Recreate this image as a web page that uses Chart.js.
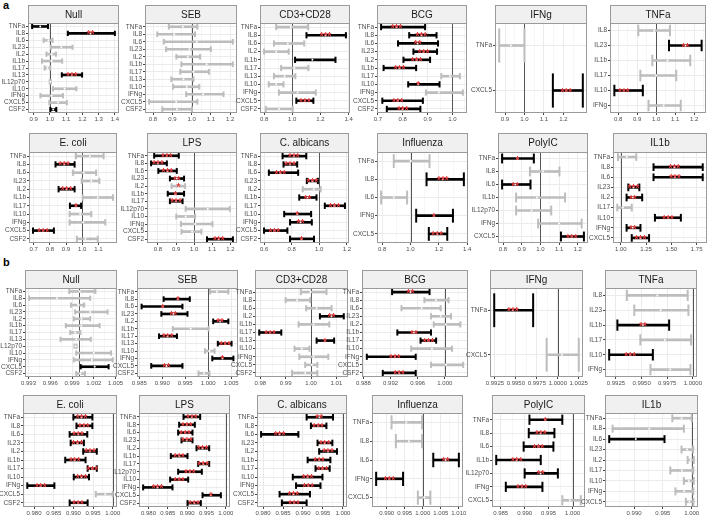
<!DOCTYPE html>
<html>
<head>
<meta charset="utf-8">
<script src="https://cdn.jsdelivr.net/npm/chart.js@4.4.1/dist/chart.umd.min.js"></script>
<style>
  body { margin: 0; background: #fff; width: 708px; height: 515px; position: relative; overflow: hidden; }
  canvas { position: absolute; }
  .tag { position: absolute; font: bold 11px "Liberation Sans", Arial, sans-serif; color: #000; }
</style>
</head>
<body>
<div class="tag" style="left:3px;top:-1px">a</div>
<div class="tag" style="left:3px;top:256px">b</div>
<script>
// ---------- panel a, top row ----------
const aNullRows = ['TNFa', 'IL8', 'IL6', 'IL23', 'IL2', 'IL1b', 'IL17', 'IL13', 'IL12p70', 'IL10', 'IFNg', 'CXCL5', 'CSF2'];
const aNullLo = [0.89, 1.11, 0.961, 1.006, 0.978, 0.951, 0.967, 1.073, 0.998, 1.018, 0.941, 0.996, 1.002];
const aNullMid = [0.94, 1.25, 0.99, 1.07, 1.01, 1.01, 0.985, 1.135, 1.002, 1.09, 1.01, 1.05, 1.02];
const aNullHi = [0.988, 1.40, 1.016, 1.139, 1.037, 1.075, 1.002, 1.198, 1.006, 1.163, 1.08, 1.104, 1.039];
const aNullSig = [1, 1, 0, 0, 0, 0, 0, 1, 0, 0, 0, 0, 1];
const aNullStars = ['', '**', '', '', '', '', '', '***', '', '', '', '', ''];
const aNullTicks = ['0.9', '1.0', '1.1', '1.2', '1.3', '1.4'];

const aSebRows = ['TNFa', 'IL8', 'IL6', 'IL23', 'IL2', 'IL1b', 'IL17', 'IL13', 'IL10', 'IFNg', 'CXCL5', 'CSF2'];
const aSebLo = [0.882, 0.822, 0.856, 0.868, 0.921, 0.947, 0.941, 0.895, 0.904, 0.972, 0.78, 0.848];
const aSebMid = [0.955, 0.91, 1.027, 0.989, 0.98, 1.078, 1.01, 0.958, 0.975, 1.06, 0.92, 0.924];
const aSebHi = [1.03, 1.018, 1.214, 1.10, 1.044, 1.214, 1.09, 1.01, 1.04, 1.166, 1.03, 1.002];
const aSebSig = [0, 0, 0, 0, 0, 0, 0, 0, 0, 0, 0, 0];
const aSebStars = ['', '', '', '', '', '', '', '', '', '', '', ''];
const aSebTicks = ['0.8', '0.9', '1.0', '1.1', '1.2'];

const aCd3Rows = ['TNFa', 'IL8', 'IL6', 'IL2', 'IL1b', 'IL17', 'IL13', 'IL10', 'IFNg', 'CXCL5', 'CSF2'];
const aCd3Lo = [0.886, 1.101, 0.87, 0.8, 1.02, 0.921, 0.87, 0.833, 0.905, 1.029, 0.812];
const aCd3Mid = [0.99, 1.237, 0.968, 0.886, 1.143, 1.015, 0.945, 0.886, 1.038, 1.09, 0.905];
const aCd3Hi = [1.113, 1.381, 1.085, 0.975, 1.307, 1.115, 1.022, 0.938, 1.167, 1.15, 1.003];
const aCd3Sig = [0, 1, 0, 0, 1, 0, 0, 0, 0, 1, 0];
const aCd3Stars = ['', '***', '', '', '', '', '', '', '', '***', ''];
const aCd3Ticks = ['0.8', '1.0', '1.2', '1.4'];

const aBcgRows = ['TNFa', 'IL8', 'IL6', 'IL23', 'IL2', 'IL1b', 'IL17', 'IL10', 'IFNg', 'CXCL5', 'CSF2'];
const aBcgLo = [0.713, 0.826, 0.781, 0.843, 0.803, 0.723, 0.955, 0.822, 0.893, 0.718, 0.736];
const aBcgMid = [0.775, 0.875, 0.86, 0.884, 0.856, 0.787, 0.99, 0.862, 0.945, 0.78, 0.80];
const aBcgHi = [0.89, 0.936, 0.942, 0.938, 0.91, 0.854, 1.03, 0.948, 1.042, 0.881, 0.871];
const aBcgSig = [1, 1, 1, 1, 1, 1, 0, 1, 0, 1, 1];
const aBcgStars = ['***', '***', '**', '***', '***', '***', '', '*', '', '***', '***'];
const aBcgTicks = ['0.7', '0.8', '0.9', '1.0'];

const aIfngRows = ['TNFa', 'CXCL5'];
const aIfngLo = [0.87, 1.146];
const aIfngMid = [0.93, 1.215];
const aIfngHi = [1.0, 1.30];
const aIfngSig = [0, 1];
const aIfngStars = ['', '***'];
const aIfngTicks = ['0.9', '1.0', '1.1', '1.2'];

const aTnfRows = ['IL8', 'IL23', 'IL1b', 'IL17', 'IL10', 'IFNg'];
const aTnfLo = [0.906, 1.068, 0.98, 0.917, 0.78, 0.96];
const aTnfMid = [0.99, 1.155, 1.06, 1.0, 0.83, 1.04];
const aTnfHi = [1.073, 1.24, 1.18, 1.106, 0.93, 1.13];
const aTnfSig = [0, 1, 0, 0, 1, 0];
const aTnfStars = ['', '**', '', '', '***', ''];
const aTnfTicks = ['0.8', '0.9', '1.0', '1.1', '1.2'];

// ---------- panel a, bottom row ----------
const aEcoRows = ['TNFa', 'IL8', 'IL6', 'IL23', 'IL2', 'IL1b', 'IL17', 'IL10', 'IFNg', 'CXCL5', 'CSF2'];
const aEcoLo = [0.961, 0.835, 0.942, 0.997, 0.854, 1.003, 0.924, 0.922, 0.922, 0.696, 0.967];
const aEcoMid = [1.047, 0.888, 1.01, 1.056, 0.904, 1.096, 0.961, 0.987, 1.007, 0.759, 1.02];
const aEcoHi = [1.132, 0.953, 1.086, 1.106, 0.953, 1.19, 0.993, 1.056, 1.142, 0.825, 1.096];
const aEcoSig = [0, 1, 0, 0, 1, 0, 1, 0, 0, 1, 0];
const aEcoStars = ['', '***', '', '', '***', '', '*', '', '', '***', ''];
const aEcoTicks = ['0.7', '0.8', '0.9', '1.0', '1.1'];

const aLpsRows = ['TNFa', 'IL8', 'IL6', 'IL23', 'IL2', 'IL1b', 'IL17', 'IL12p70', 'IL10', 'IFNg', 'CXCL5', 'CSF2'];
const aLpsLo = [0.779, 0.762, 0.802, 0.866, 0.875, 0.854, 0.866, 0.953, 0.901, 0.927, 0.93, 1.071];
const aLpsMid = [0.849, 0.80, 0.852, 0.904, 0.913, 0.897, 0.90, 1.075, 0.953, 1.005, 0.988, 1.136];
const aLpsHi = [0.915, 0.849, 0.904, 0.944, 0.95, 0.944, 0.936, 1.197, 1.005, 1.101, 1.04, 1.214];
const aLpsSig = [1, 1, 1, 1, 0, 1, 1, 0, 0, 0, 0, 1];
const aLpsStars = ['***', '***', '***', '**', '*', '*', '***', '', '', '', '', '***'];
const aLpsTicks = ['0.8', '0.9', '1.0', '1.1', '1.2'];

const aCalRows = ['TNFa', 'IL8', 'IL6', 'IL23', 'IL2', 'IL1b', 'IL17', 'IL10', 'IFNg', 'CXCL5', 'CSF2'];
const aCalLo = [0.734, 0.741, 0.635, 0.91, 0.88, 0.855, 1.04, 0.746, 0.788, 0.60, 0.788];
const aCalMid = [0.816, 0.788, 0.718, 0.95, 0.96, 0.915, 1.11, 0.84, 0.864, 0.675, 0.871];
const aCalHi = [0.906, 0.84, 0.847, 0.99, 1.01, 0.98, 1.186, 0.941, 0.946, 0.769, 0.962];
const aCalSig = [1, 1, 1, 1, 0, 1, 1, 1, 1, 1, 1];
const aCalStars = ['***', '***', '***', '***', '', '**', '***', '*', '**', '***', '*'];
const aCalTicks = ['0.6', '0.8', '1.0', '1.2'];

const aFluRows = ['TNFa', 'IL8', 'IL6', 'IFNg', 'CXCL5'];
const aFluLo = [0.882, 1.113, 0.793, 1.04, 1.129];
const aFluMid = [1.0, 1.228, 0.882, 1.165, 1.188];
const aFluHi = [1.134, 1.376, 0.976, 1.299, 1.259];
const aFluSig = [0, 1, 0, 1, 1];
const aFluStars = ['', '***', '', '*', '***'];
const aFluTicks = ['0.8', '1.0', '1.2', '1.4'];

const aPolyRows = ['TNFa', 'IL8', 'IL6', 'IL1b', 'IL12p70', 'IFNg', 'CXCL5'];
const aPolyLo = [0.795, 0.944, 0.795, 0.87, 0.87, 0.988, 1.11];
const aPolyMid = [0.877, 1.014, 0.865, 0.982, 0.953, 1.10, 1.168];
const aPolyHi = [0.965, 1.102, 0.947, 1.132, 1.058, 1.221, 1.233];
const aPolySig = [1, 0, 1, 0, 0, 0, 1];
const aPolyStars = ['*', '', '**', '', '', '', '***'];
const aPolyTicks = ['0.8', '0.9', '1.0', '1.1', '1.2'];

const aIl1Rows = ['TNFa', 'IL8', 'IL6', 'IL23', 'IL2', 'IL17', 'IL10', 'IFNg', 'CXCL5'];
const aIl1Lo = [0.973, 1.324, 1.324, 1.075, 1.058, 0.966, 1.338, 1.058, 1.109];
const aIl1Mid = [1.06, 1.53, 1.536, 1.126, 1.12, 1.024, 1.468, 1.12, 1.195];
const aIl1Hi = [1.154, 1.81, 1.81, 1.184, 1.212, 1.109, 1.594, 1.195, 1.28];
const aIl1Sig = [0, 1, 1, 1, 1, 0, 1, 1, 1];
const aIl1Stars = ['', '***', '***', '***', '**', '', '***', '**', '***'];
const aIl1Ticks = ['1.00', '1.25', '1.50', '1.75'];

// ---------- panel b, top row ----------
const bNullRows = ['TNFa', 'IL8', 'IL6', 'IL23', 'IL2', 'IL1b', 'IL17', 'IL13', 'IL12p70', 'IL10', 'IFNg', 'CXCL5', 'CSF2'];
const bNullLo = [0.99862, 0.9931, 0.99886, 0.99943, 0.99924, 0.99814, 0.99876, 0.99742, 0.99934, 0.99958, 0.99924, 1.0002, 0.99958];
const bNullMid = [1.00006, 0.99694, 0.99982, 1.0015, 1.0003, 1.0003, 0.99943, 0.99958, 0.99948, 1.002, 1.00174, 1.00212, 1.00015];
const bNullHi = [1.00222, 1.0015, 1.00068, 1.0039, 1.0015, 1.0028, 1.00015, 1.00159, 0.99962, 1.00438, 1.00462, 1.00404, 1.00078];
const bNullSig = [0, 0, 0, 0, 0, 0, 0, 0, 0, 0, 0, 1, 0];
const bNullStars = ['', '', '', '', '', '', '', '', '', '', '', '', ''];
const bNullTicks = ['0.993', '0.996', '0.999', '1.002', '1.005'];

const bSebRows = ['TNFa', 'IL8', 'IL6', 'IL23', 'IL2', 'IL1b', 'IL17', 'IL13', 'IL10', 'IFNg', 'CXCL5', 'CSF2'];
const bSebLo = [1.0004, 0.9903, 0.9855, 0.9898, 1.0011, 0.9923, 0.9893, 1.0021, 0.9993, 1.0009, 0.9876, 0.9979];
const bSebMid = [1.0019, 0.9934, 0.9901, 0.9924, 1.0026, 0.9962, 0.9912, 1.0037, 1.0003, 1.0031, 0.9909, 0.9991];
const bSebHi = [1.0044, 0.996, 0.9944, 0.9955, 1.0044, 1.0001, 0.9932, 1.0051, 1.0014, 1.0055, 0.9944, 1.0003];
const bSebSig = [0, 1, 1, 1, 1, 0, 1, 1, 0, 1, 1, 0];
const bSebStars = ['', '*', '*', '**', '**', '', '***', '***', '', '*', '**', ''];
const bSebTicks = ['0.985', '0.990', '0.995', '1.000', '1.005'];

const bCd3Rows = ['TNFa', 'IL8', 'IL6', 'IL2', 'IL1b', 'IL17', 'IL13', 'IL10', 'IFNg', 'CXCL5', 'CSF2'];
const bCd3Lo = [0.996, 0.99, 0.9981, 1.0035, 0.9951, 0.9796, 1.0022, 0.9935, 0.9954, 0.9977, 0.9925];
const bCd3Mid = [0.9997, 0.9945, 1.0022, 1.0081, 1.001, 0.9839, 1.0055, 0.9964, 1.001, 1.0003, 0.9977];
const bCd3Hi = [1.0061, 0.9997, 1.0081, 1.0129, 1.0072, 0.9883, 1.0091, 0.9994, 1.0068, 1.0025, 1.0025];
const bCd3Sig = [0, 0, 0, 1, 0, 1, 1, 0, 0, 0, 0];
const bCd3Stars = ['', '', '', '**', '', '***', '*', '', '', '', ''];
const bCd3Ticks = ['0.98', '0.99', '1.00', '1.01'];

const bBcgRows = ['TNFa', 'IL8', 'IL6', 'IL23', 'IL2', 'IL1b', 'IL17', 'IL10', 'IFNg', 'CXCL5', 'CSF2'];
const bBcgLo = [0.99223, 0.99699, 0.99361, 0.99796, 0.99837, 0.993, 0.99642, 0.99504, 0.9885, 0.99796, 0.99085];
const bBcgMid = [0.99494, 0.99872, 0.99658, 0.99939, 1.00015, 0.99545, 0.9976, 0.99811, 0.99264, 1.00015, 0.99326];
const bBcgHi = [0.99775, 1.00056, 0.99939, 1.00092, 1.0023, 0.99796, 0.99872, 1.00107, 0.99571, 1.00271, 0.99571];
const bBcgSig = [1, 0, 0, 0, 0, 1, 1, 0, 1, 0, 1];
const bBcgStars = ['**', '', '', '', '', '**', '***', '', '***', '', '***'];
const bBcgTicks = ['0.988', '0.992', '0.996', '1.000'];

const bIfngRows = ['TNFa', 'CXCL5'];
const bIfngLo = [0.99242, 0.99867];
const bIfngMid = [0.99464, 1.0005];
const bIfngHi = [0.99706, 1.0025];
const bIfngSig = [1, 0];
const bIfngStars = ['***', ''];
const bIfngTicks = ['0.9925', '0.9950', '0.9975', '1.0000', '1.0025'];

const bTnfRows = ['IL8', 'IL23', 'IL1b', 'IL17', 'IL10', 'IFNg'];
const bTnfLo = [0.99356, 0.99429, 0.99264, 0.99488, 0.99184, 0.99587];
const bTnfMid = [0.99653, 0.99686, 0.99514, 0.99726, 0.99389, 0.99779];
const bTnfHi = [0.9995, 0.99957, 0.99769, 0.99983, 0.9961, 0.99977];
const bTnfSig = [0, 0, 1, 0, 1, 0];
const bTnfStars = ['', '', '**', '', '***', ''];
const bTnfTicks = ['0.9925', '0.9950', '0.9975', '1.0000'];

// ---------- panel b, bottom row ----------
const bEcoRows = ['TNFa', 'IL8', 'IL6', 'IL23', 'IL2', 'IL1b', 'IL17', 'IL10', 'IFNg', 'CXCL5', 'CSF2'];
const bEcoLo = [0.99, 0.99078, 0.98905, 0.98931, 0.9925, 0.98793, 0.99362, 0.99009, 0.97828, 0.99569, 0.98905];
const bEcoMid = [0.99207, 0.99267, 0.99121, 0.99103, 0.99422, 0.99034, 0.99483, 0.99207, 0.98172, 0.9981, 0.99121];
const bEcoHi = [0.99483, 0.99483, 0.99353, 0.99267, 0.99595, 0.9931, 0.99595, 0.99397, 0.98517, 1.0, 0.99362];
const bEcoSig = [1, 1, 1, 1, 1, 1, 1, 1, 1, 0, 1];
const bEcoStars = ['***', '***', '***', '***', '***', '***', '***', '***', '***', '', '***'];
const bEcoTicks = ['0.980', '0.985', '0.990', '0.995', '1.000'];

const bLpsRows = ['TNFa', 'IL8', 'IL6', 'IL23', 'IL2', 'IL1b', 'IL17', 'IL12p70', 'IL10', 'IFNg', 'CXCL5', 'CSF2'];
const bLpsLo = [0.98905, 0.98793, 0.98767, 0.98853, 0.99241, 0.98578, 0.99284, 0.98767, 0.9856, 0.97862, 0.99397, 0.99009];
const bLpsMid = [0.99121, 0.98991, 0.98948, 0.98991, 0.99397, 0.98793, 0.99414, 0.99069, 0.98793, 0.98233, 0.99612, 0.99181];
const bLpsHi = [0.99336, 0.99198, 0.99138, 0.99138, 0.99569, 0.99009, 0.99569, 0.99379, 0.99026, 0.98621, 0.99871, 0.99353];
const bLpsSig = [1, 1, 1, 1, 1, 1, 1, 1, 1, 1, 1, 1];
const bLpsStars = ['***', '***', '***', '***', '***', '***', '***', '***', '***', '***', '*', '***'];
const bLpsTicks = ['0.980', '0.985', '0.990', '0.995', '1.000'];

const bCalRows = ['TNFa', 'IL8', 'IL6', 'IL23', 'IL2', 'IL1b', 'IL17', 'IL10', 'IFNg', 'CXCL5', 'CSF2'];
const bCalLo = [0.99091, 0.99198, 0.9795, 0.99364, 0.99405, 0.99116, 0.99314, 0.98744, 0.98826, 0.98413, 0.98471];
const bCalMid = [0.99405, 0.9938, 0.98413, 0.99545, 0.99628, 0.99405, 0.99488, 0.99116, 0.99132, 0.9876, 0.98777];
const bCalHi = [0.99752, 0.99587, 0.98884, 0.99736, 0.99851, 0.99686, 0.99669, 0.99488, 0.99438, 0.99174, 0.99091];
const bCalSig = [1, 1, 1, 1, 1, 1, 1, 1, 1, 1, 1];
const bCalStars = ['**', '***', '***', '***', '***', '***', '***', '***', '***', '***', '***'];
const bCalTicks = ['0.980', '0.985', '0.990', '0.995', '1.000'];

const bFluRows = ['TNFa', 'IL8', 'IL6', 'IFNg', 'CXCL5'];
const bFluLo = [0.99136, 0.99255, 1.00291, 0.98709, 0.99864];
const bFluMid = [0.99545, 0.99618, 1.00636, 0.99073, 1.00045];
const bFluHi = [0.99982, 0.99982, 1.01, 0.99455, 1.00209];
const bFluSig = [0, 0, 1, 1, 0];
const bFluStars = ['', '', '**', '***', ''];
const bFluTicks = ['0.990', '0.995', '1.000', '1.005', '1.010'];

const bPolyRows = ['TNFa', 'IL8', 'IL6', 'IL1b', 'IL12p70', 'IFNg', 'CXCL5'];
const bPolyLo = [0.991, 0.99086, 0.98979, 0.98407, 0.99, 0.98607, 0.99786];
const bPolyMid = [0.99429, 0.99336, 0.99286, 0.98836, 0.99336, 0.98943, 0.99943];
const bPolyHi = [0.99786, 0.99621, 0.996, 0.99336, 0.99693, 0.99371, 1.00171];
const bPolySig = [1, 1, 1, 1, 1, 1, 0];
const bPolyStars = ['*', '***', '***', '***', '**', '***', ''];
const bPolyTicks = ['0.985', '0.990', '0.995', '1.000'];

const bIl1Rows = ['TNFa', 'IL8', 'IL6', 'IL23', 'IL2', 'IL17', 'IL10', 'IFNg', 'CXCL5'];
const bIl1Lo = [0.99664, 0.98627, 0.98569, 0.99823, 0.99929, 0.99629, 0.99864, 0.99717, 0.99899];
const bIl1Mid = [0.99824, 0.99265, 0.9903, 0.9992, 0.9998, 0.9983, 0.9995, 0.9987, 0.9996];
const bIl1Hi = [1.0, 0.99864, 0.99528, 1.00025, 1.00036, 1.00028, 1.00036, 1.00028, 1.0003];
const bIl1Sig = [0, 0, 1, 0, 0, 0, 0, 0, 0];
const bIl1Stars = ['', '', '', '', '', '', '', '', ''];
const bIl1Ticks = ['0.990', '0.995', '1.000'];

// layout: [strip left, strip top, strip right, plot bottom, strip height]
const panels = [
  { title: 'Null', rows: aNullRows, lo: aNullLo, mid: aNullMid, hi: aNullHi, sig: aNullSig, stars: aNullStars, ticks: aNullTicks, box: [28, 5, 119, 113, 18] },
  { title: 'SEB', rows: aSebRows, lo: aSebLo, mid: aSebMid, hi: aSebHi, sig: aSebSig, stars: aSebStars, ticks: aSebTicks, box: [145, 5, 237, 113, 18] },
  { title: 'CD3+CD28', rows: aCd3Rows, lo: aCd3Lo, mid: aCd3Mid, hi: aCd3Hi, sig: aCd3Sig, stars: aCd3Stars, ticks: aCd3Ticks, box: [260, 5, 350, 113, 18] },
  { title: 'BCG', rows: aBcgRows, lo: aBcgLo, mid: aBcgMid, hi: aBcgHi, sig: aBcgSig, stars: aBcgStars, ticks: aBcgTicks, box: [377, 5, 467, 113, 18] },
  { title: 'IFNg', rows: aIfngRows, lo: aIfngLo, mid: aIfngMid, hi: aIfngHi, sig: aIfngSig, stars: aIfngStars, ticks: aIfngTicks, box: [495, 5, 587, 113, 18] },
  { title: 'TNFa', rows: aTnfRows, lo: aTnfLo, mid: aTnfMid, hi: aTnfHi, sig: aTnfSig, stars: aTnfStars, ticks: aTnfTicks, box: [610, 5, 706, 113, 18] },

  { title: 'E. coli', rows: aEcoRows, lo: aEcoLo, mid: aEcoMid, hi: aEcoHi, sig: aEcoSig, stars: aEcoStars, ticks: aEcoTicks, box: [29, 133, 117, 243, 19] },
  { title: 'LPS', rows: aLpsRows, lo: aLpsLo, mid: aLpsMid, hi: aLpsHi, sig: aLpsSig, stars: aLpsStars, ticks: aLpsTicks, box: [147, 133, 237, 243, 19] },
  { title: 'C. albicans', rows: aCalRows, lo: aCalLo, mid: aCalMid, hi: aCalHi, sig: aCalSig, stars: aCalStars, ticks: aCalTicks, box: [260, 133, 349, 243, 19] },
  { title: 'Influenza', rows: aFluRows, lo: aFluLo, mid: aFluMid, hi: aFluHi, sig: aFluSig, stars: aFluStars, ticks: aFluTicks, box: [377, 133, 468, 243, 19] },
  { title: 'PolyIC', rows: aPolyRows, lo: aPolyLo, mid: aPolyMid, hi: aPolyHi, sig: aPolySig, stars: aPolyStars, ticks: aPolyTicks, box: [498, 133, 588, 243, 19] },
  { title: 'IL1b', rows: aIl1Rows, lo: aIl1Lo, mid: aIl1Mid, hi: aIl1Hi, sig: aIl1Sig, stars: aIl1Stars, ticks: aIl1Ticks, box: [613, 133, 707, 243, 19] },

  { title: 'Null', rows: bNullRows, lo: bNullLo, mid: bNullMid, hi: bNullHi, sig: bNullSig, stars: bNullStars, ticks: bNullTicks, box: [25, 270, 117, 377, 18] },
  { title: 'SEB', rows: bSebRows, lo: bSebLo, mid: bSebMid, hi: bSebHi, sig: bSebSig, stars: bSebStars, ticks: bSebTicks, box: [137, 270, 238, 377, 18] },
  { title: 'CD3+CD28', rows: bCd3Rows, lo: bCd3Lo, mid: bCd3Mid, hi: bCd3Hi, sig: bCd3Sig, stars: bCd3Stars, ticks: bCd3Ticks, box: [255, 270, 348, 377, 18] },
  { title: 'BCG', rows: bBcgRows, lo: bBcgLo, mid: bBcgMid, hi: bBcgHi, sig: bBcgSig, stars: bBcgStars, ticks: bBcgTicks, box: [362, 270, 468, 377, 18] },
  { title: 'IFNg', rows: bIfngRows, lo: bIfngLo, mid: bIfngMid, hi: bIfngHi, sig: bIfngSig, stars: bIfngStars, ticks: bIfngTicks, box: [490, 270, 583, 377, 18] },
  { title: 'TNFa', rows: bTnfRows, lo: bTnfLo, mid: bTnfMid, hi: bTnfHi, sig: bTnfSig, stars: bTnfStars, ticks: bTnfTicks, box: [605, 270, 697, 377, 18] },

  { title: 'E. coli', rows: bEcoRows, lo: bEcoLo, mid: bEcoMid, hi: bEcoHi, sig: bEcoSig, stars: bEcoStars, ticks: bEcoTicks, box: [23, 395, 117, 507, 18] },
  { title: 'LPS', rows: bLpsRows, lo: bLpsLo, mid: bLpsMid, hi: bLpsHi, sig: bLpsSig, stars: bLpsStars, ticks: bLpsTicks, box: [139, 395, 230, 507, 18] },
  { title: 'C. albicans', rows: bCalRows, lo: bCalLo, mid: bCalMid, hi: bCalHi, sig: bCalSig, stars: bCalStars, ticks: bCalTicks, box: [257, 395, 347, 507, 18] },
  { title: 'Influenza', rows: bFluRows, lo: bFluLo, mid: bFluMid, hi: bFluHi, sig: bFluSig, stars: bFluStars, ticks: bFluTicks, box: [372, 395, 463, 507, 18] },
  { title: 'PolyIC', rows: bPolyRows, lo: bPolyLo, mid: bPolyMid, hi: bPolyHi, sig: bPolySig, stars: bPolyStars, ticks: bPolyTicks, box: [492, 395, 585, 507, 18] },
  { title: 'IL1b', rows: bIl1Rows, lo: bIl1Lo, mid: bIl1Mid, hi: bIl1Hi, sig: bIl1Sig, stars: bIl1Stars, ticks: bIl1Ticks, box: [605, 395, 698, 507, 18] }
];

const FONT = '"Liberation Sans", Arial, sans-serif';
const YW = 34;   // room for the row labels
const RP = 6;    // right pad, lets the last tick label spill a bit
const XH = 10;   // x axis height

// major ticks from the label list, minor ones half way, like ggplot
function tickSet(labels, xmin, xmax) {
  const maj = labels.map(parseFloat);
  const step = maj[1] - maj[0];
  const out = [];
  maj.forEach(function(v, i) { out.push({ value: v, lbl: labels[i] }); out.push({ value: v - step / 2, lbl: '' }); });
  out.push({ value: maj[maj.length - 1] + step / 2, lbl: '' });
  return out.filter(function(t) { return t.value >= xmin && t.value <= xmax; })
            .sort(function(a, b) { return a.value - b.value; });
}

function facetPlugin(p) {
  return {
    id: 'facet',
    beforeDraw: function(chart) {
      const ctx = chart.ctx, a = chart.chartArea;
      ctx.save();
      ctx.fillStyle = '#f0f0f0';
      ctx.fillRect(a.left, 0.5, a.right - a.left, a.top - 0.5);
      ctx.strokeStyle = '#9a9a9a';
      ctx.lineWidth = 1;
      ctx.strokeRect(a.left + 0.5, 0.5, a.right - a.left - 1, a.top);
      ctx.fillStyle = '#1a1a1a';
      ctx.font = '10px ' + FONT;
      ctx.textAlign = 'center';
      ctx.textBaseline = 'middle';
      ctx.fillText(p.title, (a.left + a.right) / 2, a.top / 2 + 1);
      ctx.restore();
    },
    beforeDatasetsDraw: function(chart) {
      const ctx = chart.ctx, a = chart.chartArea;
      const px = Math.round(chart.scales.x.getPixelForValue(1)) + 0.5;
      ctx.save();
      ctx.strokeStyle = '#555';
      ctx.lineWidth = 1;
      ctx.beginPath();
      ctx.moveTo(px, a.top);
      ctx.lineTo(px, a.bottom);
      ctx.stroke();
      ctx.restore();
    },
    afterDatasetsDraw: function(chart) {
      const ctx = chart.ctx;
      ctx.save();
      ctx.fillStyle = '#e03a3a';
      ctx.font = 'bold 10px ' + FONT;
      ctx.textAlign = 'center';
      ctx.textBaseline = 'alphabetic';
      p.stars.forEach(function(s, i) {
        if (!s) return;
        const x = chart.scales.x.getPixelForValue(p.mid[i]);
        const y = chart.scales.y.getPixelForValue(i);
        ctx.fillText(s, x, y + 5);
      });
      ctx.restore();
    },
    afterDraw: function(chart) {
      const ctx = chart.ctx, a = chart.chartArea;
      ctx.save();
      ctx.strokeStyle = '#9a9a9a';
      ctx.lineWidth = 1;
      ctx.strokeRect(a.left + 0.5, a.top + 0.5, a.right - a.left - 1, a.bottom - a.top - 1);
      ctx.restore();
    }
  };
}

function makePanel(p) {
  const b = p.box;
  const stripH = b[4];
  const plotW = b[2] - b[0], plotH = b[3] - b[1] - stripH;
  const cv = document.createElement('canvas');
  cv.width = YW + plotW + RP;
  cv.height = b[3] - b[1] + XH;
  cv.style.left = (b[0] - YW) + 'px';
  cv.style.top = b[1] + 'px';
  document.body.appendChild(cv);

  // ggplot style limits: data plus the reference line, 5% expansion
  const all = p.lo.concat(p.hi, [1]);
  const dmin = Math.min.apply(null, all), dmax = Math.max.apply(null, all);
  const xmin = dmin - 0.05 * (dmax - dmin), xmax = dmax + 0.05 * (dmax - dmin);
  const ticks = tickSet(p.ticks, xmin, xmax);

  const colors = p.sig.map(function(s) { return s ? '#000000' : '#bdbdbd'; });
  const capR = Math.max(2.6, 0.38 * plotH / p.rows.length);

  new Chart(cv, {
    type: 'bar',
    data: {
      labels: p.rows,
      datasets: [
        {
          type: 'scatter', order: 1,
          data: p.mid.map(function(v, i) { return { x: v, y: p.rows[i] }; }),
          pointRadius: 1, pointBackgroundColor: '#ffffff', pointBorderWidth: 0
        },
        {
          type: 'scatter', order: 2,
          data: p.lo.map(function(v, i) { return { x: v, y: p.rows[i] }; })
                .concat(p.hi.map(function(v, i) { return { x: v, y: p.rows[i] }; })),
          pointStyle: 'line', rotation: 90, pointRadius: capR,
          pointBorderWidth: 2, pointBorderColor: colors.concat(colors)
        },
        {
          type: 'bar', order: 3, indexAxis: 'y',
          data: p.lo.map(function(v, i) { return [v, p.hi[i]]; }),
          backgroundColor: colors, borderWidth: 0, barThickness: 2
        }
      ]
    },
    options: {
      responsive: false,
      animation: false,
      events: [],
      layout: { padding: { top: stripH, right: RP, left: 0, bottom: 0 }, autoPadding: false },
      plugins: { legend: { display: false }, tooltip: { enabled: false } },
      scales: {
        x: {
          type: 'linear', min: xmin, max: xmax, offset: false,
          afterBuildTicks: function(s) { s.ticks = ticks.map(function(t) { return { value: t.value, lbl: t.lbl }; }); },
          ticks: {
            autoSkip: false, maxRotation: 0, padding: 1, color: '#4d4d4d',
            font: { size: 6, family: FONT },
            callback: function(v, i, t) { return t[i].lbl; }
          },
          grid: {
            offset: false, tickLength: 2,
            color: function(c) { return c.tick && c.tick.lbl ? '#ebebeb' : '#f6f6f6'; },
            tickColor: function(c) { return c.tick && c.tick.lbl ? '#444' : 'rgba(0,0,0,0)'; }
          },
          border: { display: false },
          afterFit: function(s) { s.height = XH; s.paddingLeft = 0; s.paddingRight = 0; }
        },
        y: {
          type: 'category', labels: p.rows, offset: true,
          ticks: { autoSkip: false, padding: 1, color: '#4d4d4d', font: { size: 6.5, family: FONT } },
          grid: { offset: false, tickLength: 2, color: '#ebebeb', tickColor: '#444' },
          border: { display: false },
          afterFit: function(s) { s.width = YW; s.paddingTop = 0; s.paddingBottom = 0; }
        }
      }
    },
    plugins: [facetPlugin(p)]
  });
}

panels.forEach(makePanel);
</script>
</body>
</html>
